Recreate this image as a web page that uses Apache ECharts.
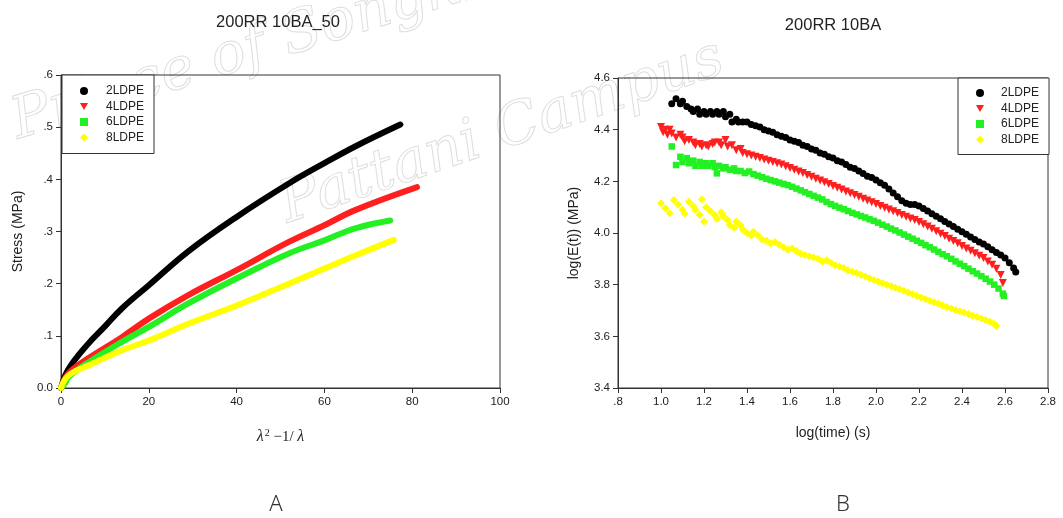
<!DOCTYPE html>
<html><head><meta charset="utf-8">
<script src="https://cdn.jsdelivr.net/npm/echarts@6/dist/echarts.min.js"></script>
<style>html,body{margin:0;padding:0;background:#fff}#c{width:1063px;height:518px}</style>
</head><body><div id="c"></div>
<script>
// ---------- DATA ----------
const seriesNames = ['2LDPE', '4LDPE', '6LDPE', '8LDPE'];
const titleA = '200RR 10BA_50';
const titleB = '200RR 10BA';
const panelLabels = ['A', 'B'];
const leftXTicks = [0, 20, 40, 60, 80, 100];
const leftYTicks = [0, 0.1, 0.2, 0.3, 0.4, 0.5, 0.6];
const rightXTicks = [0.8, 1.0, 1.2, 1.4, 1.6, 1.8, 2.0, 2.2, 2.4, 2.6, 2.8];
const rightYTicks = [3.4, 3.6, 3.8, 4.0, 4.2, 4.4, 4.6];

// Panel A: stress (MPa) vs lambda^2 - 1/lambda
const stress2 = [[0,0],[1,0.025],[2.4,0.045],[4,0.063],[6.2,0.085],[10,0.118],[13.8,0.152],[20,0.197],[29,0.262],[40,0.328],[51.9,0.392],[60,0.431],[67,0.463],[77.3,0.505]];
const stress4 = [[0,0],[1,0.02],[2.4,0.034],[6.2,0.057],[13.8,0.097],[20,0.133],[29,0.178],[40,0.226],[51.9,0.280],[60,0.312],[67,0.341],[81.1,0.385]];
const stress6 = [[0,0],[1,0.01],[1.7,0.021],[6.2,0.049],[13.8,0.088],[20,0.117],[29,0.162],[40,0.210],[51.9,0.258],[60,0.283],[67,0.306],[75,0.321]];
const stress8 = [[0,0],[1.7,0.024],[6.2,0.043],[13.8,0.072],[20,0.091],[29,0.123],[40,0.158],[51.9,0.200],[60,0.229],[67,0.254],[75.8,0.284]];

// Panel B: log(E(t)) (MPa) vs log(time) (s)
const logE2 = [[1.05,4.50],[1.07,4.52],[1.09,4.50],[1.10,4.51],[1.12,4.49],[1.14,4.48],[1.15,4.47],[1.17,4.48],[1.18,4.46],[1.20,4.47],[1.21,4.46],[1.23,4.47],[1.24,4.46],[1.26,4.47],[1.27,4.46],[1.29,4.47],[1.30,4.45],[1.32,4.46],[1.33,4.43],[1.35,4.44],[1.36,4.43],[1.38,4.43],[1.40,4.43],[1.42,4.42],[1.44,4.415],[1.46,4.41],[1.48,4.40],[1.50,4.395],[1.52,4.39],[1.54,4.38],[1.56,4.375],[1.58,4.37],[1.60,4.36],[1.62,4.355],[1.64,4.35],[1.66,4.34],[1.68,4.335],[1.70,4.325],[1.72,4.32],[1.74,4.31],[1.76,4.305],[1.78,4.295],[1.80,4.29],[1.82,4.28],[1.84,4.275],[1.86,4.265],[1.88,4.255],[1.90,4.25],[1.92,4.24],[1.94,4.23],[1.96,4.22],[1.98,4.215],[2.00,4.205],[2.02,4.195],[2.04,4.185],[2.06,4.17],[2.08,4.155],[2.10,4.14],[2.12,4.125],[2.14,4.115],[2.16,4.11],[2.18,4.11],[2.20,4.105],[2.22,4.095],[2.24,4.085],[2.26,4.075],[2.28,4.065],[2.30,4.055],[2.32,4.045],[2.34,4.035],[2.36,4.025],[2.38,4.015],[2.40,4.005],[2.42,3.995],[2.44,3.985],[2.46,3.975],[2.48,3.965],[2.50,3.957],[2.52,3.947],[2.54,3.935],[2.56,3.925],[2.58,3.915],[2.60,3.903],[2.62,3.885],[2.64,3.865],[2.65,3.849]];
const logE4 = [[1.00,4.41],[1.01,4.39],[1.02,4.40],[1.03,4.38],[1.04,4.40],[1.05,4.385],[1.07,4.37],[1.09,4.38],[1.10,4.37],[1.11,4.355],[1.13,4.36],[1.15,4.35],[1.16,4.34],[1.18,4.345],[1.19,4.335],[1.21,4.34],[1.22,4.335],[1.24,4.345],[1.25,4.35],[1.27,4.35],[1.28,4.34],[1.30,4.36],[1.31,4.335],[1.33,4.34],[1.35,4.32],[1.37,4.325],[1.38,4.31],[1.40,4.305],[1.42,4.30],[1.44,4.295],[1.46,4.29],[1.48,4.285],[1.50,4.28],[1.52,4.275],[1.54,4.27],[1.56,4.265],[1.58,4.258],[1.60,4.252],[1.62,4.245],[1.64,4.238],[1.66,4.232],[1.68,4.225],[1.70,4.218],[1.72,4.21],[1.74,4.203],[1.76,4.196],[1.78,4.19],[1.80,4.182],[1.82,4.175],[1.84,4.168],[1.86,4.161],[1.88,4.154],[1.90,4.147],[1.92,4.14],[1.94,4.133],[1.96,4.126],[1.98,4.119],[2.00,4.112],[2.02,4.105],[2.04,4.098],[2.06,4.091],[2.08,4.084],[2.10,4.077],[2.12,4.07],[2.14,4.063],[2.16,4.056],[2.18,4.05],[2.20,4.043],[2.22,4.034],[2.24,4.025],[2.26,4.016],[2.28,4.007],[2.30,3.997],[2.32,3.988],[2.34,3.978],[2.36,3.969],[2.38,3.96],[2.40,3.95],[2.42,3.94],[2.44,3.931],[2.46,3.922],[2.48,3.912],[2.50,3.903],[2.52,3.89],[2.54,3.877],[2.56,3.862],[2.58,3.837],[2.59,3.806]];
const logE6 = [[1.05,4.335],[1.07,4.263],[1.09,4.295],[1.10,4.275],[1.12,4.29],[1.13,4.27],[1.15,4.28],[1.16,4.26],[1.18,4.275],[1.19,4.26],[1.21,4.27],[1.22,4.26],[1.24,4.27],[1.25,4.255],[1.26,4.231],[1.27,4.26],[1.29,4.25],[1.30,4.255],[1.32,4.245],[1.34,4.25],[1.35,4.24],[1.37,4.24],[1.39,4.232],[1.41,4.238],[1.43,4.228],[1.45,4.222],[1.47,4.216],[1.49,4.21],[1.51,4.205],[1.53,4.2],[1.55,4.195],[1.57,4.19],[1.59,4.185],[1.61,4.179],[1.63,4.172],[1.65,4.165],[1.67,4.158],[1.69,4.151],[1.71,4.144],[1.73,4.137],[1.75,4.13],[1.77,4.12],[1.79,4.112],[1.81,4.105],[1.83,4.098],[1.85,4.092],[1.87,4.085],[1.89,4.078],[1.91,4.072],[1.93,4.066],[1.95,4.06],[1.97,4.053],[1.99,4.047],[2.01,4.04],[2.03,4.032],[2.05,4.025],[2.07,4.017],[2.09,4.01],[2.11,4.002],[2.13,3.994],[2.15,3.986],[2.17,3.978],[2.19,3.97],[2.21,3.962],[2.23,3.953],[2.25,3.945],[2.27,3.936],[2.29,3.927],[2.31,3.918],[2.33,3.91],[2.35,3.9],[2.37,3.89],[2.39,3.881],[2.41,3.872],[2.43,3.862],[2.45,3.852],[2.47,3.843],[2.49,3.833],[2.51,3.823],[2.53,3.812],[2.55,3.8],[2.57,3.785],[2.59,3.765],[2.595,3.756]];
const logE8 = [[1.00,4.115],[1.02,4.096],[1.04,4.076],[1.06,4.128],[1.08,4.11],[1.10,4.09],[1.11,4.075],[1.13,4.121],[1.15,4.105],[1.16,4.09],[1.18,4.07],[1.19,4.13],[1.20,4.044],[1.21,4.10],[1.23,4.085],[1.25,4.07],[1.26,4.055],[1.28,4.08],[1.29,4.065],[1.31,4.05],[1.32,4.03],[1.34,4.02],[1.35,4.045],[1.37,4.03],[1.38,4.015],[1.40,4.00],[1.42,3.99],[1.43,4.005],[1.45,3.99],[1.47,3.975],[1.49,3.97],[1.51,3.96],[1.53,3.965],[1.55,3.955],[1.57,3.945],[1.59,3.935],[1.61,3.94],[1.63,3.93],[1.65,3.92],[1.67,3.915],[1.69,3.91],[1.71,3.905],[1.73,3.9],[1.75,3.89],[1.77,3.895],[1.79,3.885],[1.81,3.875],[1.83,3.87],[1.85,3.865],[1.87,3.855],[1.89,3.85],[1.91,3.845],[1.93,3.838],[1.95,3.832],[1.97,3.825],[1.99,3.818],[2.01,3.812],[2.03,3.806],[2.05,3.8],[2.07,3.795],[2.09,3.788],[2.11,3.782],[2.13,3.776],[2.15,3.77],[2.17,3.763],[2.19,3.757],[2.21,3.75],[2.23,3.744],[2.25,3.738],[2.27,3.732],[2.29,3.726],[2.31,3.72],[2.33,3.713],[2.35,3.708],[2.37,3.702],[2.39,3.697],[2.41,3.692],[2.43,3.686],[2.45,3.68],[2.47,3.675],[2.49,3.669],[2.51,3.663],[2.53,3.656],[2.55,3.648],[2.56,3.64]];

// ---------- STYLE / LAYOUT ----------
const colors = ['#000000', '#ff1f1f', '#22f022', '#ffff00'];
const triDown = 'path://M0,0L10,0L5,9Z';
const symbols = ['circle', triDown, 'rect', 'diamond'];
const legendIcons = ['circle', triDown, 'rect', 'diamond'];
const symbolSizes = [7, 8, 6.5, 8];
const FONT = '"Liberation Sans", Arial, sans-serif';
const tickFmtNoLead = v => (Math.abs(v) < 1e-9 ? '0.0' : v.toFixed(1).replace(/^0/, ''));

function axisCommon() {
  return {
    axisLine: { show: true, onZero: false, lineStyle: { color: '#333', width: 1 } },
    axisTick: { show: true, inside: false, length: 5, lineStyle: { color: '#333' } },
    splitLine: { show: false },
    axisLabel: { color: '#222', fontSize: 11.5, fontFamily: FONT, margin: 8 }
  };
}

const chart = echarts.init(document.getElementById('c'), null, { renderer: 'canvas' });

const stressSets = [stress2, stress4, stress6, stress8];
const logESets = [logE2, logE4, logE6, logE8];

const series = [];
stressSets.forEach((d, i) => {
  series.push({
    name: seriesNames[i], type: 'line', xAxisIndex: 0, yAxisIndex: 0,
    data: d, smooth: 0.4, symbol: 'none', showSymbol: false,
    lineStyle: { color: colors[i], width: 6, cap: 'round', join: 'round' },
    itemStyle: { color: colors[i] }, z: 2 + i, animation: false
  });
});
logESets.forEach((d, i) => {
  series.push({
    name: seriesNames[i], type: 'scatter', xAxisIndex: 1, yAxisIndex: 1,
    data: d, symbol: symbols[i], symbolSize: symbolSizes[i],
    itemStyle: { color: colors[i], opacity: 1 }, z: 2 + i, animation: false
  });
});

function legendData() {
  return seriesNames.map((n, i) => ({ name: n, icon: legendIcons[i] }));
}

const option = {
  animation: false,
  backgroundColor: '#ffffff',
  grid: [
    { left: 61, top: 75, width: 439, height: 313, show: true, borderColor: '#333', borderWidth: 1, backgroundColor: 'transparent' },
    { left: 618, top: 78, width: 430, height: 310, show: true, borderColor: '#333', borderWidth: 1, backgroundColor: 'transparent' }
  ],
  xAxis: [
    Object.assign(axisCommon(), {
      gridIndex: 0, type: 'value', min: leftXTicks[0], max: leftXTicks[leftXTicks.length - 1], interval: leftXTicks[1] - leftXTicks[0],
      name: '{i|λ}{s|2}{n| −1/ }{i|λ}', nameLocation: 'middle', nameGap: 40,
      nameTextStyle: { rich: {
        i: { fontFamily: '"Liberation Serif", "DejaVu Serif", serif', fontStyle: 'italic', fontSize: 16, color: '#222' },
        s: { fontFamily: '"Liberation Serif", serif', fontSize: 10, color: '#222', verticalAlign: 'top', padding: [0, 0, 8, 1] },
        n: { fontFamily: '"Liberation Serif", serif', fontSize: 15, color: '#222' }
      } }
    }),
    Object.assign(axisCommon(), {
      gridIndex: 1, type: 'value', min: rightXTicks[0], max: rightXTicks[rightXTicks.length - 1], interval: 0.2,
      axisLabel: { color: '#222', fontSize: 11.5, fontFamily: FONT, margin: 8, formatter: tickFmtNoLead },
      name: 'log(time) (s)', nameLocation: 'middle', nameGap: 38,
      nameTextStyle: { fontFamily: FONT, fontSize: 14, color: '#222' }
    })
  ],
  yAxis: [
    Object.assign(axisCommon(), {
      gridIndex: 0, type: 'value', min: leftYTicks[0], max: leftYTicks[leftYTicks.length - 1], interval: 0.1,
      axisLabel: { color: '#222', fontSize: 11.5, fontFamily: FONT, margin: 8, formatter: tickFmtNoLead },
      name: 'Stress (MPa)', nameLocation: 'middle', nameGap: 36,
      nameTextStyle: { fontFamily: FONT, fontSize: 14, color: '#222' }
    }),
    Object.assign(axisCommon(), {
      gridIndex: 1, type: 'value', min: rightYTicks[0], max: rightYTicks[rightYTicks.length - 1], interval: 0.2,
      axisLabel: { color: '#222', fontSize: 11.5, fontFamily: FONT, margin: 8, formatter: v => v.toFixed(1) },
      name: 'log(E(t)) (MPa)', nameLocation: 'middle', nameGap: 37,
      nameTextStyle: { fontFamily: FONT, fontSize: 14, color: '#222' }
    })
  ],
  legend: [
    { data: legendData(), left: 62, top: 75, orient: 'vertical', itemWidth: 8, itemHeight: 8, itemGap: 3.5,
      padding: [10, 10, 10, 18], borderColor: '#333', borderWidth: 1, backgroundColor: '#fff',
      textStyle: { fontFamily: FONT, fontSize: 12, color: '#222', padding: [0, 0, 0, 13] }, selectedMode: false, z: 10 },
    { data: legendData(), left: 958, top: 78, orient: 'vertical', itemWidth: 8, itemHeight: 8, itemGap: 3.5,
      padding: [9, 10, 9, 18], borderColor: '#333', borderWidth: 1, backgroundColor: '#fff',
      textStyle: { fontFamily: FONT, fontSize: 12, color: '#222', padding: [0, 0, 0, 12] }, selectedMode: false, z: 10 }
  ],
  graphic: [
    { type: 'text', x: 22, y: 152, rotation: 0.3, z: -10, silent: true,
      style: { text: 'Prince of Songkla', fontFamily: '"DejaVu Serif", serif', fontStyle: 'italic', fontSize: 58,
               fill: 'rgba(255,255,255,0)', stroke: '#dedede', lineWidth: 1, textVerticalAlign: 'bottom' } },
    { type: 'text', x: 292, y: 236, rotation: 0.33, z: -10, silent: true,
      style: { text: 'Pattani Campus', fontFamily: '"DejaVu Serif", serif', fontStyle: 'italic', fontSize: 58,
               fill: 'rgba(255,255,255,0)', stroke: '#dedede', lineWidth: 1, textVerticalAlign: 'bottom' } },
    { type: 'text', x: 278, y: 22, style: { text: titleA, fontFamily: FONT, fontSize: 16.5, fill: '#222', textAlign: 'center', textVerticalAlign: 'middle' } },
    { type: 'text', x: 833, y: 25, style: { text: titleB, fontFamily: FONT, fontSize: 16.5, fill: '#222', textAlign: 'center', textVerticalAlign: 'middle' } },
    { type: 'text', x: 276, y: 505, style: { text: panelLabels[0], fontFamily: '"Noto Sans", sans-serif', fontSize: 22, fontWeight: 300, fill: '#333', textAlign: 'center', textVerticalAlign: 'middle' } },
    { type: 'text', x: 843, y: 505, style: { text: panelLabels[1], fontFamily: '"Noto Sans", sans-serif', fontSize: 22, fontWeight: 300, fill: '#333', textAlign: 'center', textVerticalAlign: 'middle' } }
  ],
  series: series
};
chart.setOption(option);
</script>
</body></html>
